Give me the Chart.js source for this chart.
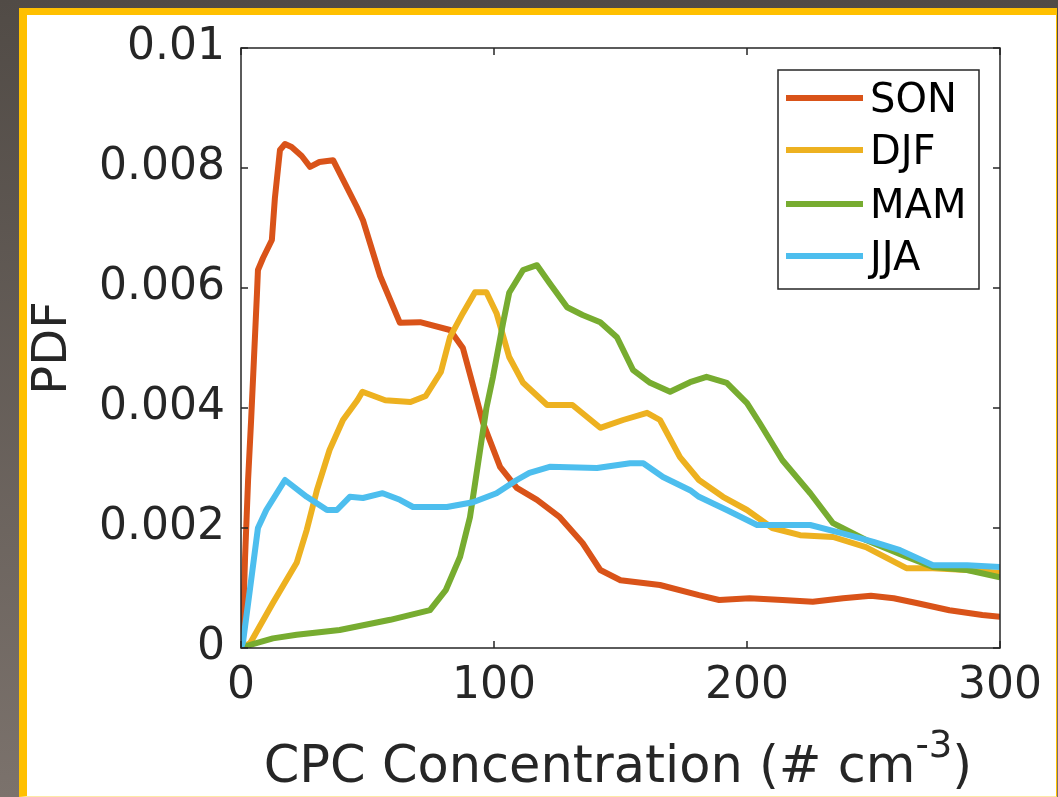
<!DOCTYPE html>
<html>
<head>
<meta charset="utf-8">
<script src="https://cdn.jsdelivr.net/npm/chart.js@4/dist/chart.umd.min.js"></script>
<style>
html,body{margin:0;padding:0;}
body{width:1058px;height:797px;overflow:hidden;background:linear-gradient(#514b46,#7b726c);position:relative;}
#frame{position:absolute;left:19px;top:8px;width:1029px;height:781px;border-style:solid;border-color:#ffc000 #ffc000 #fde9a6 #ffc000;border-width:7px 1px 1px 8px;background:#fff;}
canvas{display:block;}
</style>
</head>
<body>
<div id="frame"><canvas id="myChart" width="1029" height="781"></canvas></div>
<script>
// seasons
var seasons = ['SON', 'DJF', 'MAM', 'JJA'];
var colors = ['#D95319', '#EDB120', '#77AC30', '#4DBEEE'];

var xTicks = [0, 100, 200, 300];
var xTickLabels = ['0', '100', '200', '300'];
var yTicks = [0, 0.002, 0.004, 0.006, 0.008, 0.01];
var yTickLabels = ['0', '0.002', '0.004', '0.006', '0.008', '0.01'];

var sonX = [0, 0.8, 1.6, 2.8, 4, 5.1, 6.3, 6.7, 8.7, 12.2, 13.4, 15.4, 17.4, 20, 24, 27.3, 31, 36.4, 45.8, 48.2, 55, 62.8, 70.8, 82.6, 87.7, 95.7, 102.4, 109, 117, 126, 135, 142, 150, 165.6, 181, 189, 201, 214, 226, 238, 249, 258, 267, 280, 293, 300];
var sonY = [0, .0004, .0015, .0028, .0038, .0048, .0059, .0063, .0065, .0068, .0075, .0083, .0084, .00835, .0082, .00802, .0081, .00813, .00735, .00713, .0062, .00542, .00543, .0053, .005, .00375, .00302, .00267, .00247, .00218, .00175, .0013, .00113, .00105, .00088, .0008, .00083, .0008, .00077, .00083, .00087, .00083, .00075, .00063, .00055, .00052];

var djfX = [0, 3.6, 12.6, 22, 26, 30, 35, 40.3, 46, 48, 57, 67, 73, 79, 82.6, 87.7, 92.5, 97, 101, 106, 111.5, 121, 131, 142, 151, 160.5, 165.6, 173.5, 181, 190.5, 200, 210, 221, 234, 247, 263, 273.5, 287, 300];
var djfY = [0, .00008, .00075, .00142, .00197, .00263, .0033, .0038, .00413, .00427, .00413, .0041, .0042, .0046, .00518, .00558, .00593, .00593, .00558, .00485, .00442, .00405, .00405, .00367, .0038, .00392, .0038, .00318, .0028, .00252, .0023, .002, .00188, .00185, .00168, .00133, .00133, .0013, .00125];

var mamX = [0, 5, 12.6, 22, 39, 59, 74.7, 81, 86.6, 90.5, 94.5, 97, 99.6, 103.6, 106, 111.5, 117, 122, 128.9, 135, 142, 148.6, 155, 161.7, 169.6, 177.5, 184, 192, 200, 205, 214, 225, 234, 247, 263, 273.5, 287, 300];
var mamY = [0, .00007, .00016, .00022, .0003, .00047, .00063, .00097, .00152, .00218, .0033, .004, .00452, .00542, .00592, .0063, .00638, .00608, .00568, .00555, .00543, .00518, .00463, .00442, .00427, .00443, .00452, .00442, .00408, .00375, .00313, .00258, .00208, .0018, .00152, .00135, .0013, .00118];

var jjaX = [0, 0.8, 3.6, 6.7, 10, 17.4, 26, 34, 37.9, 43, 48.2, 56, 62.8, 68, 81.4, 91.7, 101, 109, 114, 122, 140.7, 153.8, 159, 166.8, 177.5, 181, 192, 204, 225, 237, 250, 260.5, 273.5, 287, 300];
var jjaY = [0, .0001, .001, .002, .0023, .0028, .00252, .0023, .0023, .00252, .0025, .00258, .00247, .00235, .00235, .00243, .00258, .0028, .00292, .00302, .003, .00308, .00308, .00285, .00263, .00252, .0023, .00205, .00205, .00192, .00177, .00163, .00138, .00138, .00135];

var allX = [sonX, djfX, mamX, jjaX];
var allY = [sonY, djfY, mamY, jjaY];

const FONT = '"DejaVu Sans", sans-serif';
const AXIS = '#262626';

function pts(xs, ys) {
  return xs.map((x, i) => ({x: x, y: ys[i]}));
}

// box, inward ticks, axis titles, legend
const matlabAxes = {
  id: 'matlabAxes',
  afterDatasetsDraw(chart) {
    const {ctx, chartArea: a, scales: {x, y}} = chart;
    ctx.save();
    ctx.strokeStyle = AXIS;
    ctx.lineWidth = 1.5;
    ctx.strokeRect(a.left, a.top, a.right - a.left, a.bottom - a.top);
    ctx.beginPath();
    xTicks.forEach(v => {
      const px = x.getPixelForValue(v);
      ctx.moveTo(px, a.bottom); ctx.lineTo(px, a.bottom - 7);
      ctx.moveTo(px, a.top); ctx.lineTo(px, a.top + 7);
    });
    yTicks.forEach(v => {
      const py = y.getPixelForValue(v);
      ctx.moveTo(a.left, py); ctx.lineTo(a.left + 7, py);
      ctx.moveTo(a.right, py); ctx.lineTo(a.right - 7, py);
    });
    ctx.stroke();

    // x title with superscript
    ctx.fillStyle = AXIS;
    ctx.textBaseline = 'alphabetic';
    ctx.textAlign = 'left';
    const t1 = 'CPC Concentration (# cm', sup = '-3', t3 = ')';
    ctx.font = '51px ' + FONT;
    const w1 = ctx.measureText(t1).width, w3 = ctx.measureText(t3).width;
    ctx.font = '37px ' + FONT;
    const w2 = ctx.measureText(sup).width;
    let x0 = 591 - (w1 + w2 + w3) / 2;
    ctx.font = '51px ' + FONT;
    ctx.fillText(t1, x0, 767);
    ctx.font = '37px ' + FONT;
    ctx.fillText(sup, x0 + w1, 742);
    ctx.font = '51px ' + FONT;
    ctx.fillText(t3, x0 + w1 + w2, 767);

    // y title
    ctx.save();
    ctx.translate(27, 333);
    ctx.rotate(-Math.PI / 2);
    ctx.textAlign = 'center';
    ctx.textBaseline = 'middle';
    ctx.font = '48px ' + FONT;
    ctx.fillText('PDF', 0, 0);
    ctx.restore();

    // legend
    ctx.fillStyle = '#fff';
    ctx.fillRect(751, 55, 201, 219);
    ctx.strokeStyle = AXIS;
    ctx.lineWidth = 1.5;
    ctx.strokeRect(751, 55, 201, 219);
    const rows = [83, 135, 189, 241];
    ctx.font = '40px ' + FONT;
    ctx.textBaseline = 'middle';
    ctx.textAlign = 'left';
    seasons.forEach((s, i) => {
      ctx.strokeStyle = colors[i];
      ctx.lineWidth = 6;
      ctx.beginPath();
      ctx.moveTo(759, rows[i]);
      ctx.lineTo(836, rows[i]);
      ctx.stroke();
      ctx.fillStyle = '#000';
      ctx.fillText(s, 843, rows[i] + 4);
    });
    ctx.restore();
  }
};

let chartOne = document.getElementById('myChart');

const myChart = new Chart(chartOne, {
  type: 'line',
  data: {
    datasets: seasons.map((s, i) => ({
      label: s,
      data: pts(allX[i], allY[i]),
      borderColor: colors[i],
      borderWidth: 6,
      pointRadius: 0,
      tension: 0,
      fill: false,
      borderJoinStyle: 'round',
      order: 3 - i
    }))
  },
  options: {
    responsive: false,
    animation: false,
    devicePixelRatio: 1,
    layout: {padding: {top: 33, right: 56, left: 0, bottom: 0}},
    plugins: {legend: {display: false}, tooltip: {enabled: false}},
    scales: {
      x: {
        type: 'linear', min: 0, max: 300,
        afterBuildTicks: s => { s.ticks = xTicks.map(v => ({value: v})); },
        afterFit: s => { s.height = 148; s.paddingLeft = 0; s.paddingRight = 0; },
        grid: {display: false, drawTicks: false},
        border: {display: false},
        ticks: {
          font: {family: FONT, size: 44}, color: AXIS, padding: 12, maxRotation: 0,
          callback: (v, i) => xTickLabels[i]
        }
      },
      y: {
        type: 'linear', min: 0, max: 0.01,
        afterBuildTicks: s => { s.ticks = yTicks.map(v => ({value: v})); },
        afterFit: s => { s.width = 214; s.paddingTop = 0; s.paddingBottom = 0; },
        grid: {display: false, drawTicks: false},
        border: {display: false},
        ticks: {
          font: {family: FONT, size: 44}, color: AXIS, padding: 16,
          callback: (v, i) => yTickLabels[i]
        }
      }
    }
  },
  plugins: [matlabAxes]
});
</script>
</body>
</html>
